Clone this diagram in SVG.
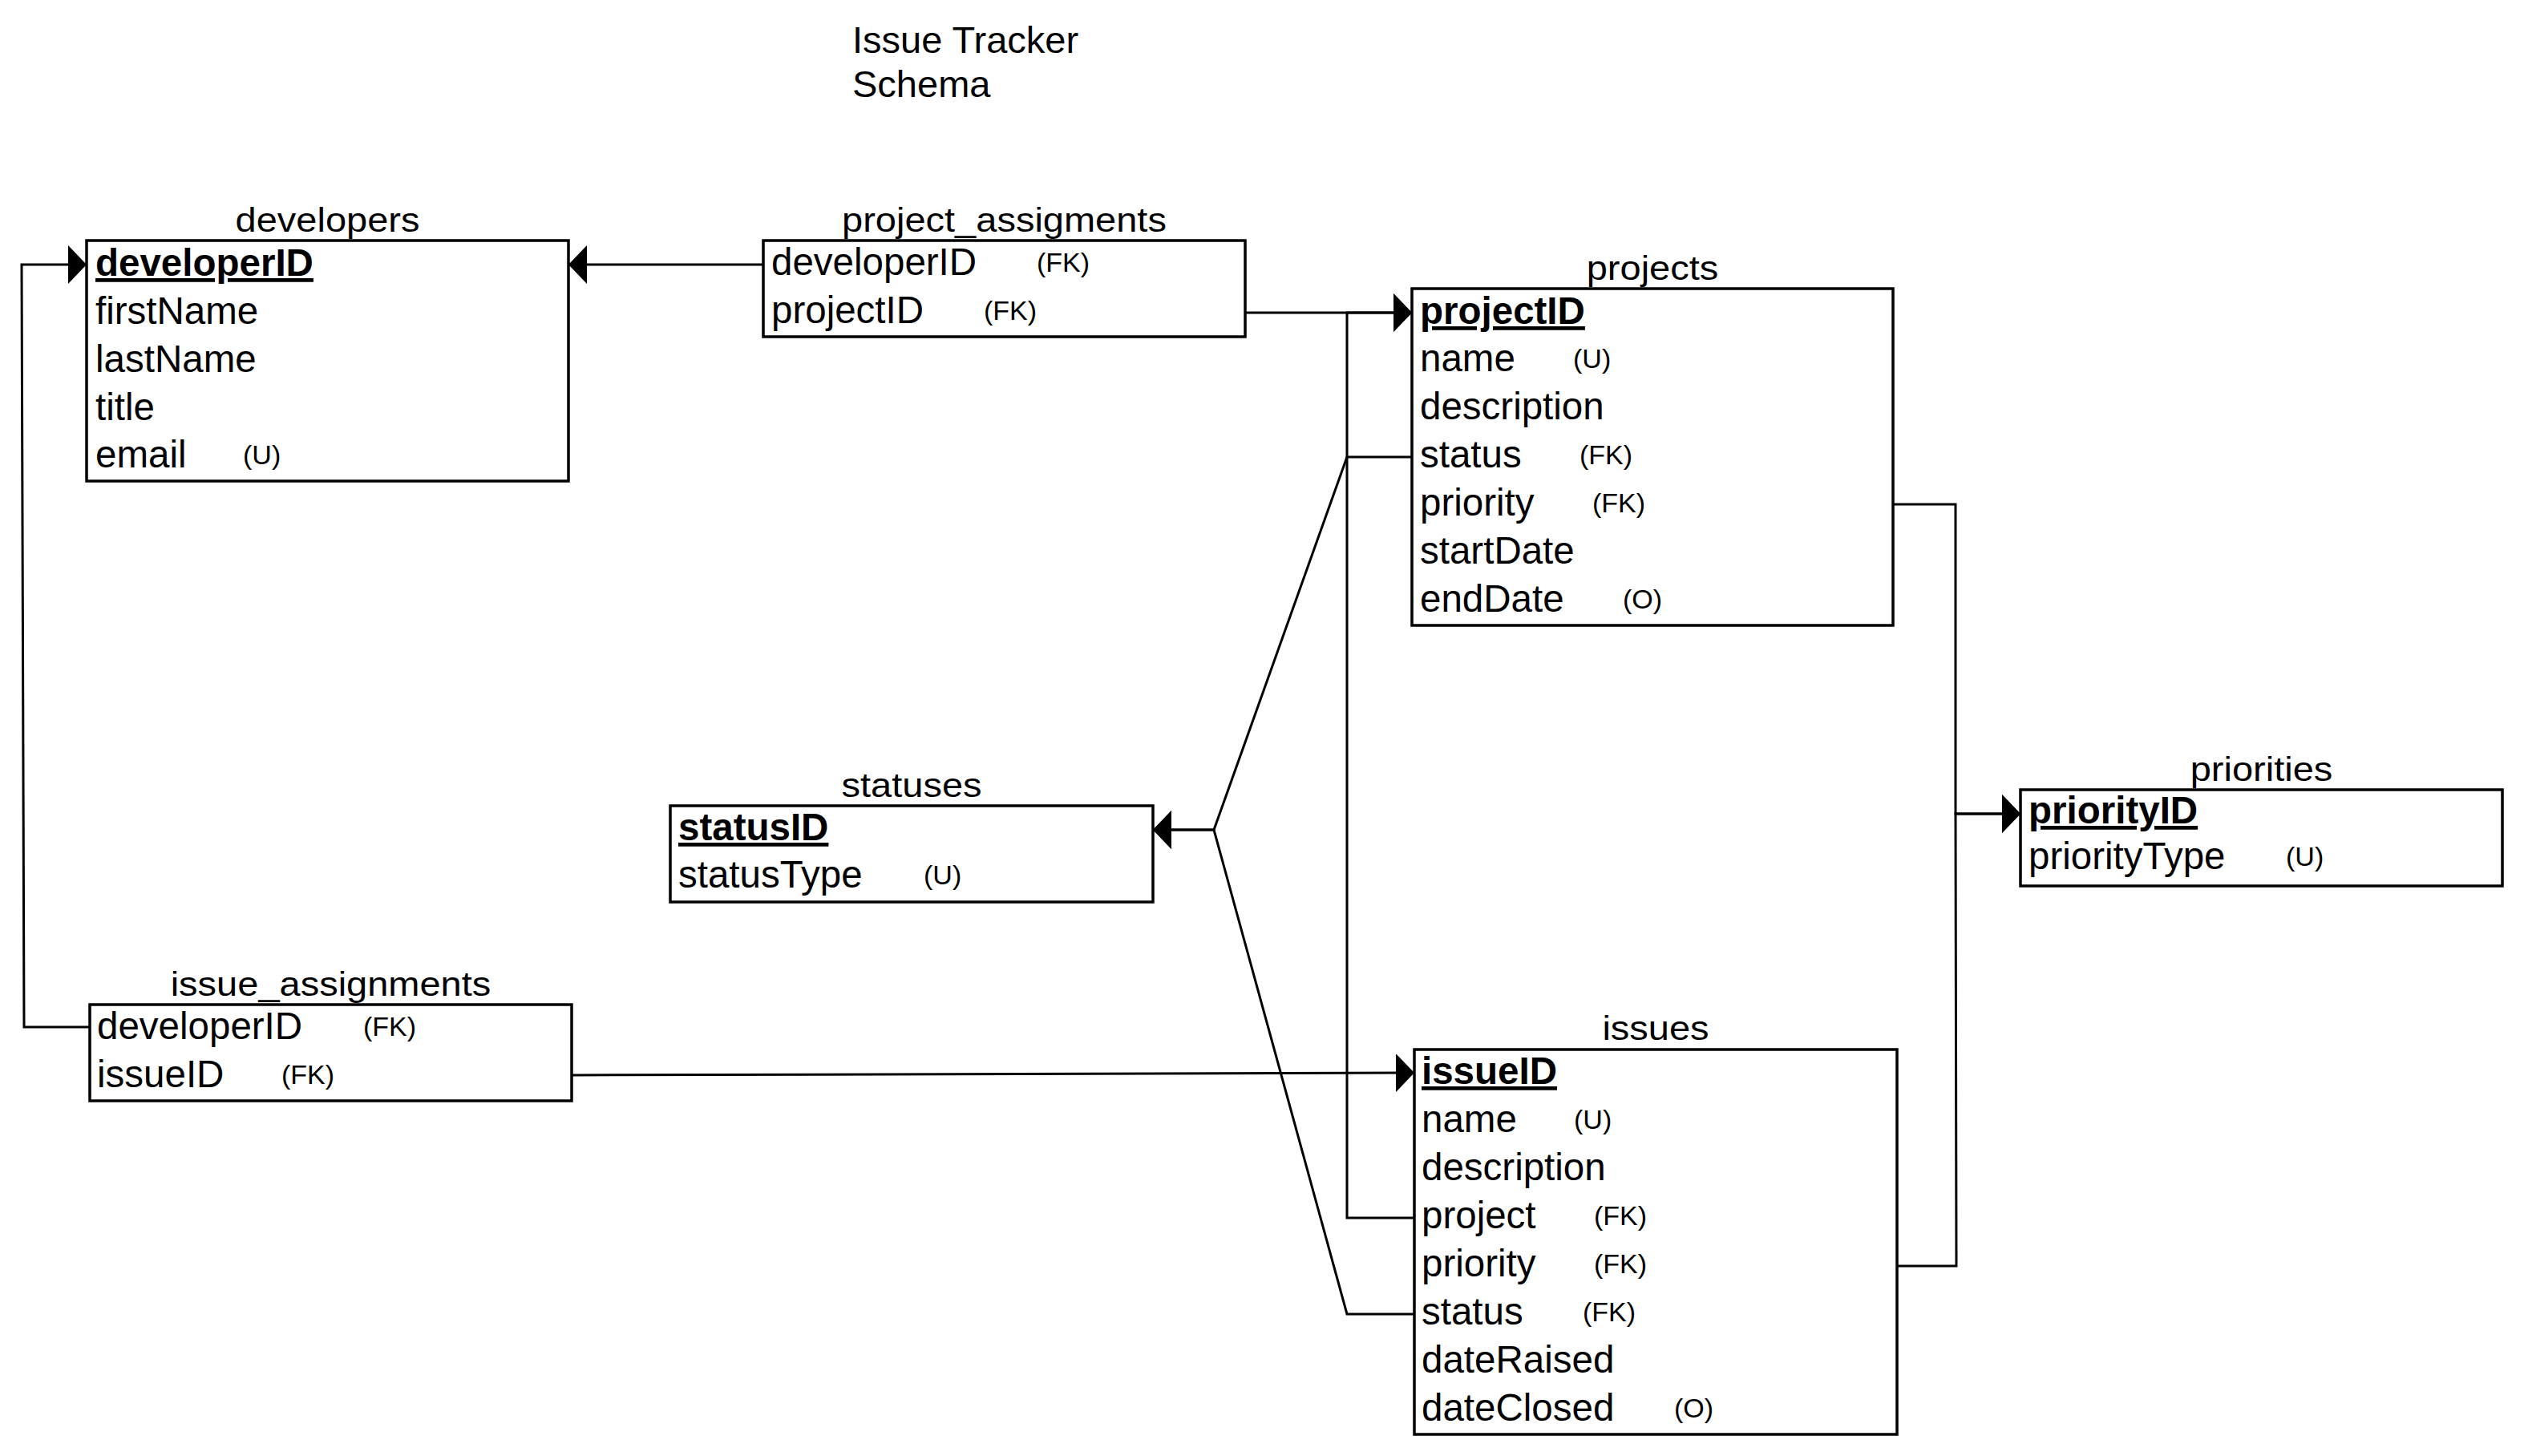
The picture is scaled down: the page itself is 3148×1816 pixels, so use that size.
<svg xmlns="http://www.w3.org/2000/svg" width="3148" height="1816" viewBox="0 0 3148 1816">
  <style>
    text { font-family: "Liberation Sans", Arial, Helvetica, sans-serif; fill: #000; }
    .box { fill: #fff; stroke: #000; stroke-width: 3.5; }
    .f { font-size: 47.5px; }
    .pk { font-size: 47.5px; font-weight: bold; text-decoration: underline; }
    .a { font-size: 34px; }
    .t { font-size: 47px; text-anchor: middle; }
    .head { font-size: 47px; }
    .c { fill: none; stroke: #000; stroke-width: 3; stroke-linejoin: miter; }
  </style>
  <defs>
    <marker id="arrow" markerUnits="userSpaceOnUse" viewBox="0 0 23 48" markerWidth="23" markerHeight="48" refX="23" refY="24" orient="auto">
      <path d="M0,0 L23,24 L0,48 Z" fill="#000"/>
    </marker>
  </defs>
  <rect width="3148" height="1816" fill="#fff"/>

  <!-- heading -->
  <g id="heading">
    <text class="head" x="1063" y="66">Issue Tracker</text>
    <text class="head" x="1063" y="121">Schema</text>
  </g>

  <!-- relationships -->
  <g id="connectors">
    <path class="c" d="M952,330 L709,330" marker-end="url(#arrow)"/>
    <path class="c" d="M112,1281 L30,1281 L27,330 L108,330" marker-end="url(#arrow)"/>
    <path class="c" d="M1553,390 L1761,390" marker-end="url(#arrow)"/>
    <path class="c" d="M1764,1519 L1680,1519 L1680,390 L1761,390" marker-end="url(#arrow)"/>
    <path class="c" d="M713,1341 L1764,1338" marker-end="url(#arrow)"/>
    <path class="c" d="M1761,570 L1680,570 L1514,1035 L1438,1035" marker-end="url(#arrow)"/>
    <path class="c" d="M1764,1639 L1680,1639 L1514,1035 L1438,1035" marker-end="url(#arrow)"/>
    <path class="c" d="M2361,629 L2439,629 L2439,1015 L2520,1015" marker-end="url(#arrow)"/>
    <path class="c" d="M2366,1579 L2440,1579 L2439,1015 L2520,1015" marker-end="url(#arrow)"/>
  </g>

  <!-- tables -->
  <g id="developers">
    <text class="t" transform="translate(408.5 289) scale(1 0.9)">developers</text>
    <rect class="box" x="108" y="300" width="601" height="300"/>
    <text class="pk" x="119" y="344">developerID</text>
    <text class="f" x="119" y="404">firstName</text>
    <text class="f" x="119" y="464">lastName</text>
    <text class="f" x="119" y="524">title</text>
    <text class="f" x="119" y="583">email</text>
    <text class="a" x="303" y="579">(U)</text>
  </g>

  <g id="project_assigments">
    <text class="t" transform="translate(1252.5 289) scale(1 0.9)">project_assigments</text>
    <rect class="box" x="952" y="300" width="601" height="120"/>
    <text class="f" x="962" y="343">developerID</text>
    <text class="a" x="1293" y="339">(FK)</text>
    <text class="f" x="962" y="403">projectID</text>
    <text class="a" x="1227" y="399">(FK)</text>
  </g>

  <g id="projects">
    <text class="t" transform="translate(2061 349) scale(1 0.9)">projects</text>
    <rect class="box" x="1761" y="360" width="600" height="420"/>
    <text class="pk" x="1771" y="404">projectID</text>
    <text class="f" x="1771" y="463">name</text>
    <text class="a" x="1962" y="459">(U)</text>
    <text class="f" x="1771" y="523">description</text>
    <text class="f" x="1771" y="583">status</text>
    <text class="a" x="1970" y="579">(FK)</text>
    <text class="f" x="1771" y="643">priority</text>
    <text class="a" x="1986" y="639">(FK)</text>
    <text class="f" x="1771" y="703">startDate</text>
    <text class="f" x="1771" y="763">endDate</text>
    <text class="a" x="2024" y="759">(O)</text>
  </g>

  <g id="statuses">
    <text class="t" transform="translate(1137 994) scale(1 0.9)">statuses</text>
    <rect class="box" x="836" y="1005" width="602" height="120"/>
    <text class="pk" x="846" y="1048">statusID</text>
    <text class="f" x="846" y="1107">statusType</text>
    <text class="a" x="1152" y="1103">(U)</text>
  </g>

  <g id="issue_assignments">
    <text class="t" transform="translate(412.5 1242) scale(1 0.9)">issue_assignments</text>
    <rect class="box" x="112" y="1253" width="601" height="120"/>
    <text class="f" x="121" y="1296">developerID</text>
    <text class="a" x="453" y="1292">(FK)</text>
    <text class="f" x="121" y="1356">issueID</text>
    <text class="a" x="351" y="1352">(FK)</text>
  </g>

  <g id="issues">
    <text class="t" transform="translate(2065 1297) scale(1 0.9)">issues</text>
    <rect class="box" x="1764" y="1309" width="602" height="480"/>
    <text class="pk" x="1773" y="1352">issueID</text>
    <text class="f" x="1773" y="1412">name</text>
    <text class="a" x="1963" y="1408">(U)</text>
    <text class="f" x="1773" y="1472">description</text>
    <text class="f" x="1773" y="1532">project</text>
    <text class="a" x="1988" y="1528">(FK)</text>
    <text class="f" x="1773" y="1592">priority</text>
    <text class="a" x="1988" y="1588">(FK)</text>
    <text class="f" x="1773" y="1652">status</text>
    <text class="a" x="1974" y="1648">(FK)</text>
    <text class="f" x="1773" y="1712">dateRaised</text>
    <text class="f" x="1773" y="1772">dateClosed</text>
    <text class="a" x="2088" y="1768">(O)</text>
  </g>

  <g id="priorities">
    <text class="t" transform="translate(2820.5 974) scale(1 0.9)">priorities</text>
    <rect class="box" x="2520" y="985" width="601" height="120"/>
    <text class="pk" x="2530" y="1027">priorityID</text>
    <text class="f" x="2530" y="1084">priorityType</text>
    <text class="a" x="2851" y="1080">(U)</text>
  </g>
</svg>
